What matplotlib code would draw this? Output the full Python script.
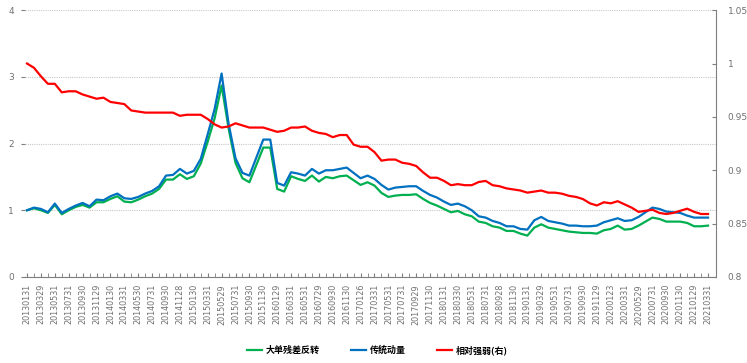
import matplotlib
matplotlib.use("Agg")
import matplotlib.pyplot as plt
import numpy as np

plt.rcParams['font.family'] = ['Noto Sans CJK SC', 'DejaVu Sans']

tick_dates = ["20130131", "20130329", "20130531", "20130731", "20130930", "20131129",
              "20140130", "20140331", "20140530", "20140731", "20140930", "20141128",
              "20150130", "20150331", "20150529", "20150731", "20150930", "20151130",
              "20160129", "20160331", "20160531", "20160729", "20160930", "20161130",
              "20170126", "20170331", "20170531", "20170731", "20170929", "20171130",
              "20180131", "20180330", "20180531", "20180731", "20180928", "20181130",
              "20190131", "20190329", "20190531", "20190731", "20190930", "20191129",
              "20200123", "20200331", "20200529", "20200731", "20200930", "20201130",
              "20210129", "20210331"]

big_order_reversal = [1.00, 1.03, 1.00, 0.96, 1.08, 0.94, 1.00, 1.05, 1.08, 1.04,
                      1.12, 1.12, 1.17, 1.21, 1.13, 1.12, 1.16, 1.21, 1.25, 1.32,
                      1.46, 1.46, 1.54, 1.47, 1.51, 1.70, 2.03, 2.38, 2.87, 2.23,
                      1.71, 1.48, 1.42, 1.68, 1.94, 1.94, 1.32, 1.28, 1.51, 1.47,
                      1.44, 1.52, 1.43, 1.50, 1.48, 1.51, 1.52, 1.45, 1.38, 1.42,
                      1.37, 1.26, 1.20, 1.22, 1.23, 1.23, 1.24, 1.17, 1.11, 1.07,
                      1.02, 0.97, 0.99, 0.94, 0.91, 0.83, 0.81, 0.76, 0.74, 0.69,
                      0.69, 0.65, 0.62, 0.74, 0.79, 0.74, 0.72, 0.70, 0.68, 0.67,
                      0.66, 0.66, 0.65, 0.70, 0.72, 0.77, 0.71, 0.72, 0.77, 0.83,
                      0.89, 0.87, 0.83, 0.83, 0.83, 0.81, 0.76, 0.76, 0.77]

traditional_momentum = [1.00, 1.04, 1.02, 0.97, 1.10, 0.96, 1.02, 1.07, 1.11, 1.06,
                        1.16, 1.15, 1.21, 1.25, 1.18, 1.17, 1.20, 1.25, 1.29, 1.36,
                        1.52, 1.53, 1.62, 1.55, 1.59, 1.77, 2.14, 2.52, 3.05, 2.30,
                        1.78, 1.56, 1.52, 1.79, 2.06, 2.06, 1.41, 1.37, 1.57, 1.55,
                        1.52, 1.62, 1.55, 1.60, 1.60, 1.62, 1.64, 1.56, 1.48, 1.52,
                        1.47, 1.38, 1.31, 1.34, 1.35, 1.36, 1.36, 1.29, 1.23, 1.19,
                        1.13, 1.08, 1.10, 1.06, 1.00, 0.91, 0.89, 0.84, 0.81, 0.76,
                        0.76, 0.72, 0.71, 0.85, 0.90, 0.84, 0.82, 0.80, 0.77, 0.77,
                        0.76, 0.76, 0.77, 0.82, 0.85, 0.88, 0.84, 0.85, 0.90, 0.97,
                        1.04, 1.02, 0.98, 0.97, 0.96, 0.92, 0.89, 0.89, 0.89]

relative_strength = [1.000, 0.996, 0.988, 0.981, 0.981, 0.973, 0.974, 0.974, 0.971, 0.969,
                     0.967, 0.968, 0.964, 0.963, 0.962, 0.956, 0.955, 0.954, 0.954, 0.954,
                     0.954, 0.954, 0.951, 0.952, 0.952, 0.952, 0.948, 0.943, 0.940, 0.941,
                     0.944, 0.942, 0.940, 0.940, 0.940, 0.938, 0.936, 0.937, 0.940, 0.940,
                     0.941, 0.937, 0.935, 0.934, 0.931, 0.933, 0.933, 0.924, 0.922, 0.922,
                     0.917, 0.909, 0.910, 0.910, 0.907, 0.906, 0.904, 0.898, 0.893, 0.893,
                     0.890, 0.886, 0.887, 0.886, 0.886, 0.889, 0.890, 0.886, 0.885, 0.883,
                     0.882, 0.881, 0.879, 0.880, 0.881, 0.879, 0.879, 0.878, 0.876, 0.875,
                     0.873, 0.869, 0.867, 0.870, 0.869, 0.871, 0.868, 0.865, 0.861, 0.862,
                     0.863, 0.860, 0.859, 0.860, 0.862, 0.864, 0.861, 0.859, 0.859]

series_names = ["大单残差反转", "传统动量", "相对强弱(右)"]
colors = ["#00B050", "#0070C0", "#FF0000"]

n = len(relative_strength)
x = np.arange(n)

fig = plt.figure(figsize=(7.47, 3.63), dpi=100)
ax = fig.add_axes([0.0335, 0.237, 0.9255, 0.735])
ax2 = ax.twinx()

l1, = ax.plot(x, big_order_reversal, color=colors[0], lw=1.6, label=series_names[0])
l2, = ax.plot(x, traditional_momentum, color=colors[1], lw=1.6, label=series_names[1])
l3, = ax2.plot(x, relative_strength, color=colors[2], lw=1.6, label=series_names[2])

ax.set_xlim(-0.29, n + 0.2)
ax.set_ylim(0, 4)
ax.set_yticks([0, 1, 2, 3, 4])
ax.set_yticklabels(["0", "1", "2", "3", "4"])
ax2.set_ylim(0.8, 1.05)
ax2.set_yticks([0.8, 0.85, 0.9, 0.95, 1.0, 1.05])
ax2.set_yticklabels(["0.8", "0.85", "0.9", "0.95", "1", "1.05"])

ax.grid(axis='y', linestyle=(0, (1, 1)), color='#C8C8C8', lw=0.8)
ax.set_axisbelow(True)

ax.set_xticks(x[::2])
ax.set_xticklabels(tick_dates, rotation=90, fontsize=5.8, color='#707070',
                   family=['DejaVu Sans'])
ax.set_xticks(x, minor=True)
ax.tick_params(axis='x', which='both', direction='in', length=3, color='#7F7F7F',
               pad=5)
ax.tick_params(axis='y', direction='out', length=3, color='#7F7F7F',
               labelsize=6.5, labelcolor='#707070', pad=5)
for lab in ax.get_yticklabels():
    lab.set_family(['DejaVu Sans'])
ax2.tick_params(axis='y', direction='in', length=3, color='#7F7F7F',
                labelsize=6.5, labelcolor='#707070', pad=8)
for lab in ax2.get_yticklabels():
    lab.set_family(['DejaVu Sans'])

for a in (ax, ax2):
    a.spines['top'].set_visible(False)
    a.spines['left'].set_visible(False)
ax.spines['right'].set_visible(False)
ax.spines['bottom'].set_color('#7F7F7F')
ax2.spines['bottom'].set_visible(False)
ax2.spines['right'].set_color('#7F7F7F')
ax2.spines['right'].set_linewidth(0.8)

fig.legend(handles=[l1, l2, l3], loc='lower center', bbox_to_anchor=(0.505, 0.0),
           ncol=3, frameon=False, handlelength=1.7,
           handletextpad=0.35, columnspacing=3.5,
           prop={'family': ['Noto Sans CJK SC', 'DejaVu Sans'], 'weight': 'bold', 'size': 6.5})

fig.savefig("out.png", dpi=100)
